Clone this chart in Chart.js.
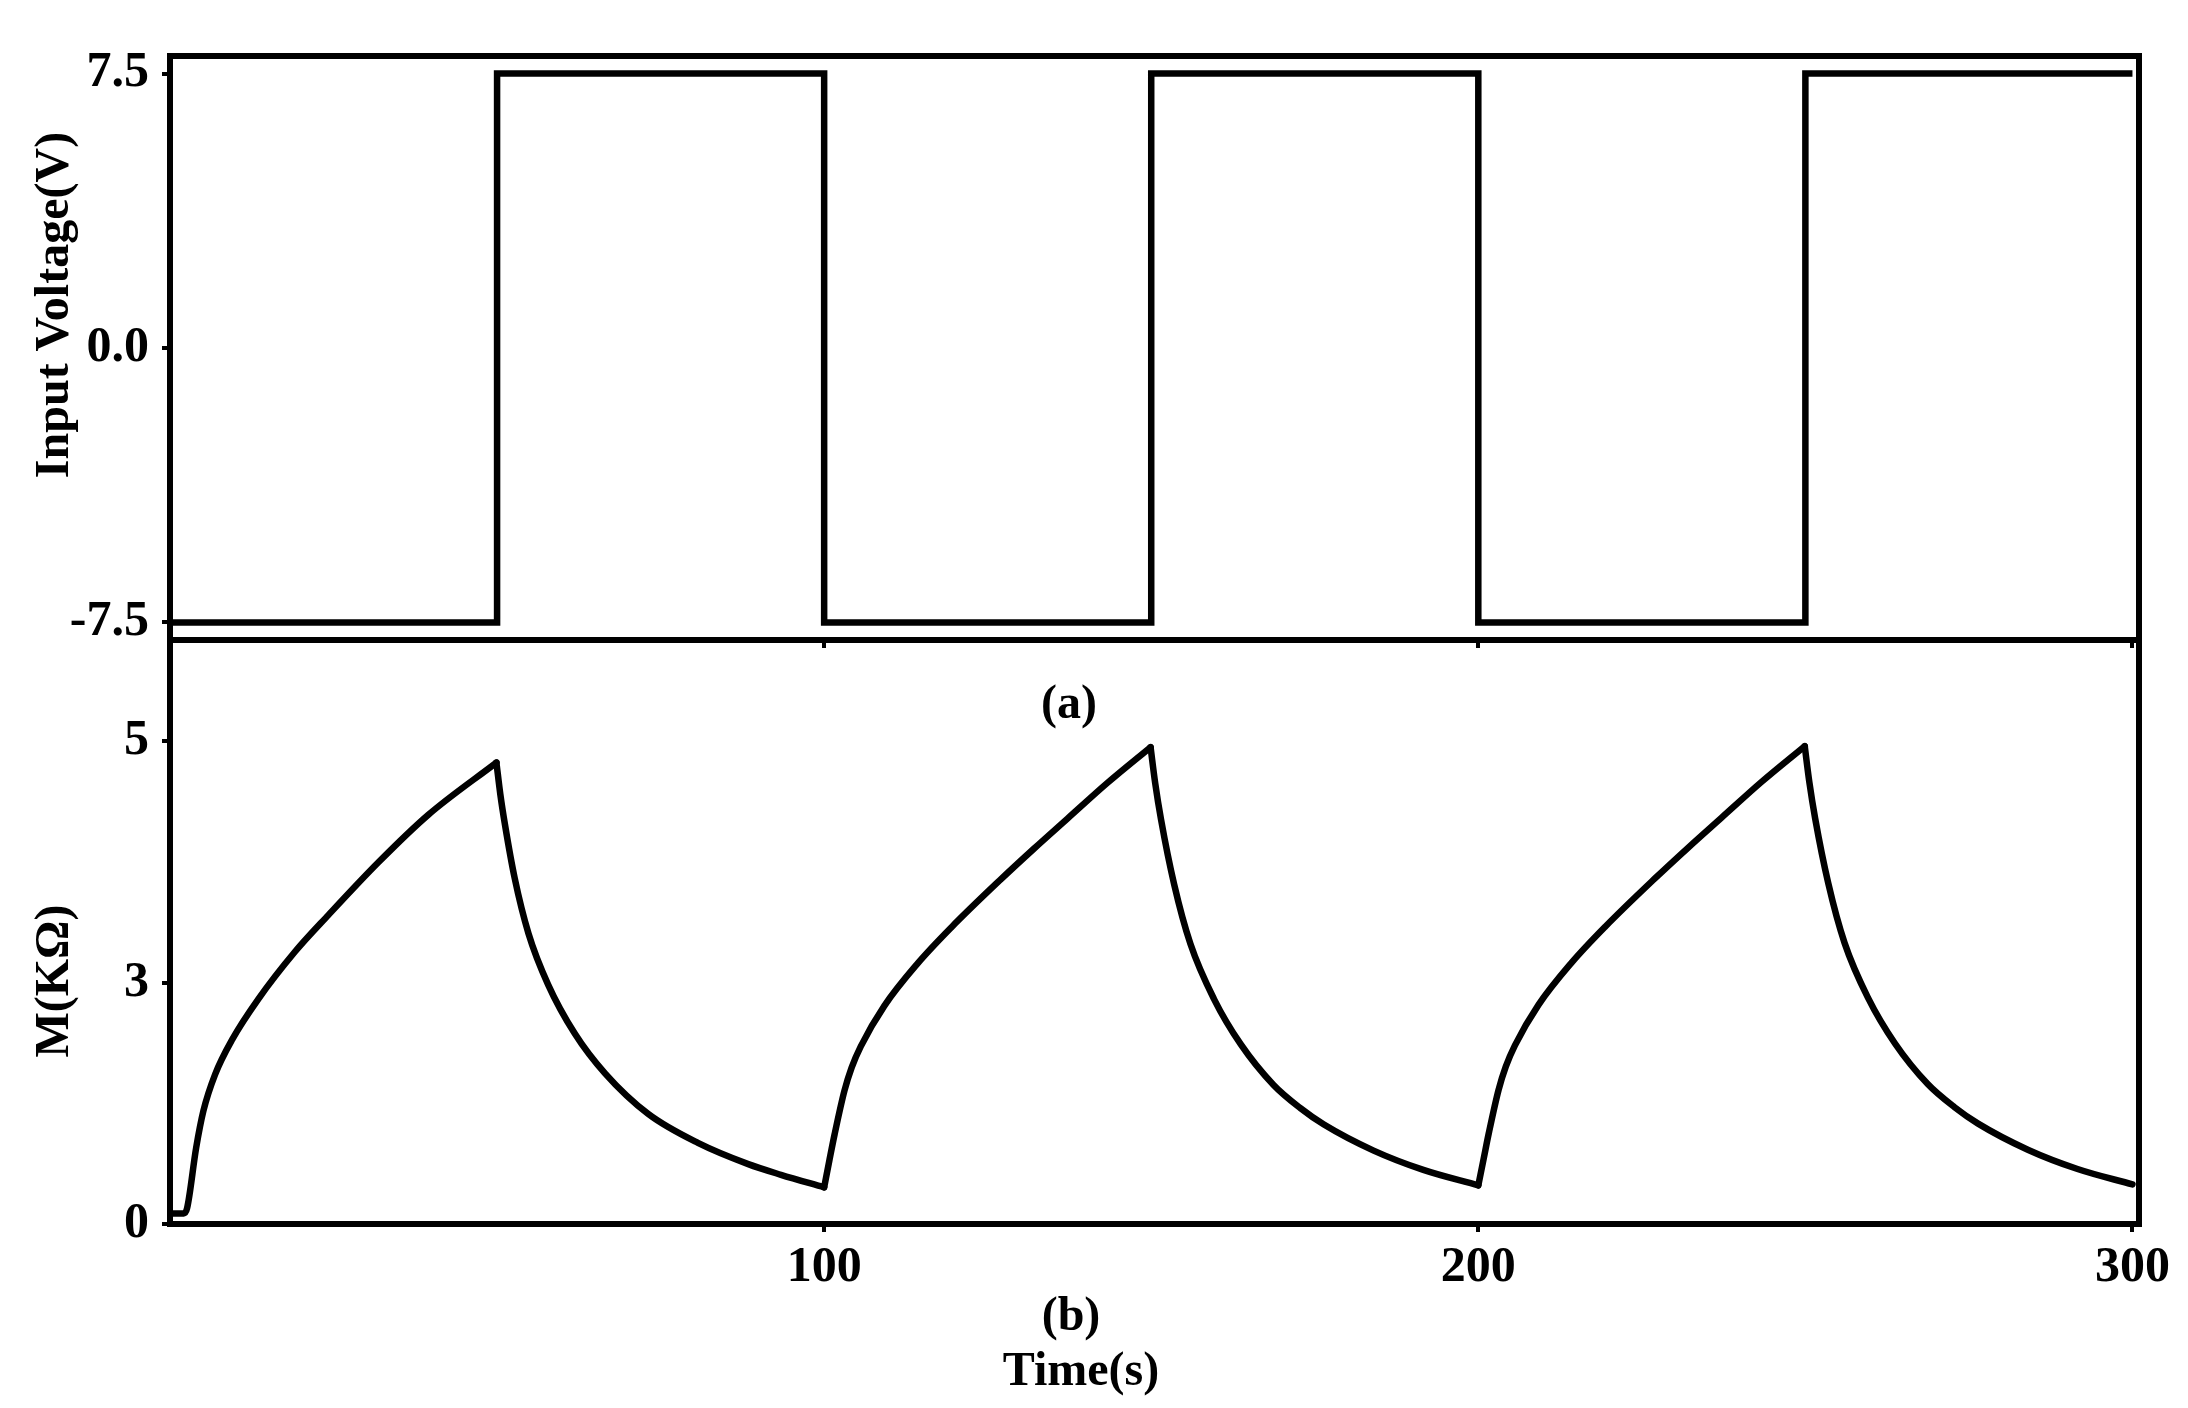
<!DOCTYPE html>
<html>
<head>
<meta charset="utf-8">
<script src="https://cdn.jsdelivr.net/npm/chart.js@4.4.1/dist/chart.umd.min.js"></script>
<style>
html,body{margin:0;padding:0;background:#fff;}
#wrap{position:relative;width:2188px;height:1408px;background:#fff;}
canvas{position:absolute;left:0;top:0;}
</style>
</head>
<body>
<div id="wrap">
<canvas id="c1" width="2188" height="1408"></canvas>
<canvas id="c2" width="2188" height="1408"></canvas>
</div>
<script>
// ---------- data ----------
const voltTime  = [0, 50, 50, 100, 100, 150, 150, 200, 200, 250, 250, 300];
const voltValue = [-7.5, -7.5, 7.5, 7.5, -7.5, -7.5, 7.5, 7.5, -7.5, -7.5, 7.5, 7.5];
const voltTicks = [-7.5, 0, 7.5];
const voltTickLabels = ['-7.5', '0.0', '7.5'];

const mTime = [
  0, 2.1, 2.6, 4.0, 5.1, 6.9, 9.5, 13.5, 19.1, 24.2, 31.9, 39.5, 49.9,
  50.5, 51.2, 52.7, 54.8, 57.8, 61.9, 66.5, 73.1, 80.7, 88.4, 93.4, 100.0,
  100.8, 101.6, 103.1, 104.2, 105.6, 109.2, 114.3, 119.4, 127.0, 132.1, 137.2, 143.3, 149.9,
  150.6, 151.5, 153.5, 156.0, 159.6, 163.7, 168.7, 172.8, 176.4, 184.0, 191.6, 200.0,
  200.8, 201.6, 203.1, 204.2, 205.6, 209.2, 214.3, 219.4, 227.0, 232.1, 237.2, 243.3, 249.9,
  250.6, 251.5, 253.5, 256.0, 259.6, 263.7, 268.7, 272.8, 276.4, 284.0, 291.6, 300.0
];
const mValue = [
  0.11, 0.11, 0.16, 0.79, 1.17, 1.55, 1.91, 2.33, 2.82, 3.20, 3.75, 4.24, 4.78,
  4.45, 4.14, 3.58, 3.01, 2.48, 1.97, 1.56, 1.14, 0.84, 0.62, 0.51, 0.38,
  0.66, 0.93, 1.38, 1.62, 1.84, 2.26, 2.70, 3.07, 3.57, 3.89, 4.20, 4.57, 4.94,
  4.57, 4.19, 3.52, 2.90, 2.33, 1.86, 1.44, 1.20, 1.03, 0.76, 0.56, 0.40,
  0.67, 0.94, 1.39, 1.63, 1.85, 2.27, 2.71, 3.08, 3.58, 3.90, 4.21, 4.58, 4.95,
  4.58, 4.20, 3.53, 2.91, 2.34, 1.87, 1.45, 1.21, 1.04, 0.77, 0.57, 0.41
];
const mTicks = [0, 2.5, 5];
const mTickLabels = ['0', '3', '5'];
const timeTicks = [100, 200, 300];
const timeTickLabels = ['100', '200', '300'];

// ---------- helpers ----------
const FONT_FAMILY = '"Liberation Serif", "Times New Roman", serif';
Chart.defaults.font.family = FONT_FAMILY;
Chart.defaults.font.weight = 'bold';
Chart.defaults.color = '#000';

function toPoints(xs, ys){ return xs.map((x, i) => ({x: x, y: ys[i]})); }

// split the series at its peaks/troughs so each piece is monotone
function splitMonotone(xs, ys){
  const segs = [];
  let start = 0;
  for (let i = 1; i < xs.length - 1; i++){
    const d1 = ys[i] - ys[i-1], d2 = ys[i+1] - ys[i];
    if (d1 * d2 < 0){ segs.push([start, i]); start = i; }
  }
  segs.push([start, xs.length - 1]);
  return segs.map(([a, b]) => toPoints(xs.slice(a, b + 1), ys.slice(a, b + 1)));
}

const framePlugin = {
  id: 'frame',
  afterDraw(chart){
    const a = chart.chartArea, ctx = chart.ctx;
    ctx.save();
    ctx.strokeStyle = '#000';
    ctx.lineWidth = 6;
    ctx.strokeRect(a.left, a.top, a.right - a.left, a.bottom - a.top);
    ctx.restore();
  }
};

const textPlugin = {
  id: 'freeText',
  afterDraw(chart, args, opts){
    const ctx = chart.ctx;
    (opts.items || []).forEach(it => {
      ctx.save();
      ctx.fillStyle = '#000';
      ctx.textAlign = 'center';
      ctx.textBaseline = 'middle';
      ctx.font = 'bold ' + it.size + 'px ' + FONT_FAMILY;
      ctx.translate(it.x, it.y);
      if (it.rot) ctx.rotate(it.rot);
      ctx.fillText(it.text, 0, 0);
      ctx.restore();
    });
  }
};

const axisGrid = {drawOnChartArea: false, drawTicks: true, tickLength: 8, color: '#000', lineWidth: 4};
const axisBorder = {display: true, color: '#000', width: 6};
const tickFont = {size: 50, weight: 'bold', family: FONT_FAMILY};

// ---------- top panel: input voltage ----------
new Chart(document.getElementById('c1'), {
  type: 'line',
  data: {
    datasets: [{
      data: toPoints(voltTime, voltValue),
      borderColor: '#000', borderWidth: 6.5, pointRadius: 0, tension: 0,
      borderJoinStyle: 'miter', fill: false
    }]
  },
  options: {
    responsive: false, animation: false, devicePixelRatio: 1,
    layout: {padding: {top: 56, right: 49, left: 0, bottom: 0}},
    plugins: {
      legend: {display: false}, tooltip: {enabled: false},
      freeText: {items: [
        {text: 'Input Voltage(V)', x: 56, y: 305, size: 48, rot: -Math.PI / 2},
        {text: '(a)', x: 1069, y: 706, size: 48}
      ]}
    },
    scales: {
      x: {
        type: 'linear', min: 0, max: 301,
        afterBuildTicks: s => { s.ticks = timeTicks.map(v => ({value: v})); },
        afterFit: s => { s.height = 1408 - 640; },
        ticks: {display: false},
        grid: axisGrid, border: axisBorder
      },
      y: {
        type: 'linear', min: -7.98, max: 7.98,
        afterBuildTicks: s => { s.ticks = voltTicks.map(v => ({value: v})); },
        afterFit: s => { s.width = 170; },
        ticks: {font: tickFont, color: '#000', padding: 13,
          callback: v => voltTickLabels[voltTicks.indexOf(v)]},
        grid: axisGrid, border: axisBorder
      }
    }
  },
  plugins: [framePlugin, textPlugin]
});

// ---------- bottom panel: memristance ----------
const mSegments = splitMonotone(mTime, mValue);
new Chart(document.getElementById('c2'), {
  type: 'line',
  data: {
    datasets: mSegments.map(seg => ({
      data: seg,
      borderColor: '#000', borderWidth: 6.5, pointRadius: 0,
      cubicInterpolationMode: 'monotone',
      borderCapStyle: 'round', borderJoinStyle: 'round', fill: false
    }))
  },
  options: {
    responsive: false, animation: false, devicePixelRatio: 1,
    layout: {padding: {top: 640, right: 49, left: 0, bottom: 0}},
    plugins: {
      legend: {display: false}, tooltip: {enabled: false},
      freeText: {items: [
        {text: 'M(KΩ)', x: 56, y: 981, size: 48, rot: -Math.PI / 2},
        {text: '(b)', x: 1071, y: 1318, size: 48},
        {text: 'Time(s)', x: 1081, y: 1373, size: 48}
      ]}
    },
    scales: {
      x: {
        type: 'linear', min: 0, max: 301,
        afterBuildTicks: s => { s.ticks = timeTicks.map(v => ({value: v})); },
        afterFit: s => { s.height = 1408 - 1224; },
        ticks: {font: tickFont, color: '#000', padding: 6, maxRotation: 0,
          callback: v => timeTickLabels[timeTicks.indexOf(v)]},
        grid: axisGrid, border: axisBorder
      },
      y: {
        type: 'linear', min: 0, max: 6.05,
        afterBuildTicks: s => { s.ticks = mTicks.map(v => ({value: v})); },
        afterFit: s => { s.width = 170; },
        ticks: {font: tickFont, color: '#000', padding: 13,
          callback: v => mTickLabels[mTicks.indexOf(v)]},
        grid: axisGrid, border: axisBorder
      }
    }
  },
  plugins: [framePlugin, textPlugin]
});
</script>
</body>
</html>
